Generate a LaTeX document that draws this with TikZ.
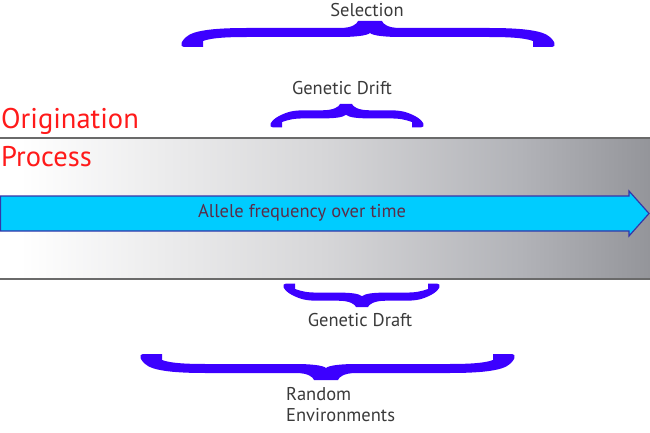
\documentclass[tikz,border=0pt]{standalone}
\usepackage{fontspec}
\setmainfont{PT Sans}
\definecolor{bracecol}{HTML}{3C00FF}
\definecolor{arrowfill}{HTML}{00CCFF}
\definecolor{arrowedge}{HTML}{3535A8}
\definecolor{labelgray}{HTML}{3A3A3A}
\definecolor{arrowtext}{HTML}{5A2D48}
\definecolor{bandedge}{HTML}{6A6A6A}
\definecolor{orired}{HTML}{FF1A1A}
\pgfdeclarehorizontalshading{bandshade}{100bp}{
  color(0bp)=(white); color(26.5bp)=(white);
  color(50bp)=(rgb,255:red,214;green,214;blue,216);
  color(65bp)=(rgb,255:red,178;green,179;blue,184);
  color(75bp)=(rgb,255:red,148;green,149;blue,154);
  color(100bp)=(rgb,255:red,148;green,149;blue,154)}
% #1 xm, #2 ytip, #3 L, #4 R, #5 yscale, #6 tip half width, #7 foot width
\newcommand\CurlyBrace[7]{%
\begin{scope}[shift={(#1,#2)},yscale=#5]
\fill[bracecol]
 (-#3+3,26) .. controls (-#3-2,26) and (-#3,19) .. (-#3+8,14)
 .. controls (-#3+18,8) and (-#3+2*#7,7) .. (-#3+3*#7,7)
 -- (-#6-18,7) .. controls (-#6-6,7) and (-#6-1,3) .. (-#6,0)
 -- (#6,0) .. controls (#6+1,3) and (#6+6,7) .. (#6+18,7)
 -- (#4-3*#7,7) .. controls (#4-2*#7,7) and (#4-18,8) .. (#4-8,14)
 .. controls (#4,19) and (#4+2,26) .. (#4-3,26)
 -- (#4-#7,26) -- (#4-#7,20) .. controls (#4-#7-8,17) and (#4-2*#7,16) .. (#4-3*#7,16)
 -- (#6+18,16) .. controls (#6+6,16) and (3,15) .. (0,12)
 .. controls (-3,15) and (-#6-6,16) .. (-#6-18,16)
 -- (-#3+3*#7,16) .. controls (-#3+2*#7,16) and (-#3+#7+8,17) .. (-#3+#7,20)
 -- (-#3+#7,26) -- cycle;
\end{scope}}
\tikzset{
  lbl/.style={text=labelgray, font=\fontsize{18.5}{22}\selectfont, inner sep=0pt},
  redlbl/.style={text=orired, font=\fontsize{28.5}{34}\selectfont, inner sep=0pt, anchor=west},
}
\begin{document}
\begin{tikzpicture}[x=1pt,y=-1pt]
\useasboundingbox (0,0) rectangle (650,433);
% band
\shade[shading=bandshade] (0,138) rectangle (650,279);
\draw[bandedge, line width=2] (0,138) -- (650,138);
\draw[bandedge, line width=2] (0,279) -- (650,279);
% arrow
\draw[fill=arrowfill, draw=arrowedge, line width=1.2]
  (0.6,196) -- (629,196) -- (629,191) -- (649,213.5) -- (629,236) -- (629,231) -- (0.6,231) -- cycle;
\node[text=arrowtext, font=\fontsize{18.5}{22}\selectfont, inner sep=0pt] (allele) at (302,213) {Allele frequency over time};
% red labels
\node[redlbl] (orig) at (1,121) {Origination};
\node[redlbl] (proc) at (1,157) {Process};
% braces
\CurlyBrace{370}{21}{189}{185}{1}{12}{22}
\CurlyBrace{346}{104}{76}{78}{0.9}{6}{12}
\CurlyBrace{362}{307}{79}{78}{-0.9}{6}{12}
\CurlyBrace{326}{380}{186}{189}{-1}{12}{22}
% labels
\node[lbl] (sel) at (367,10) {Selection};
\node[lbl] (drift) at (342,88) {Genetic Drift};
\node[lbl] (draft) at (360,320) {Genetic Draft};
\node[lbl, anchor=west, align=left, font=\fontsize{18.5}{21}\selectfont] (randenv) at (286,405) {Random\\Environments};
\end{tikzpicture}
\end{document}
